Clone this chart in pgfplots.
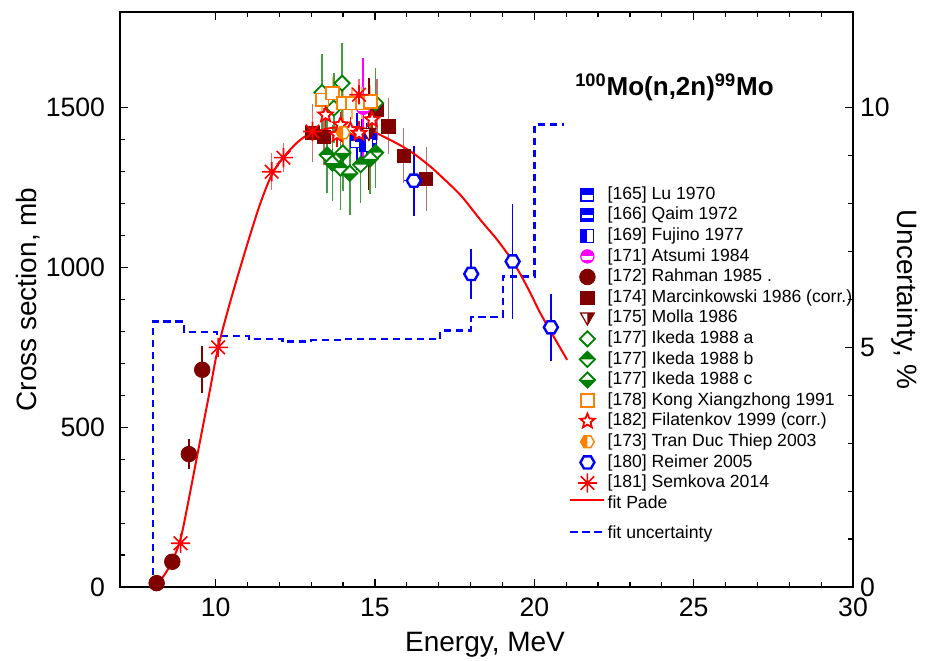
\documentclass[border=0pt]{standalone}
\usepackage{fontspec}
\setmainfont{Liberation Sans}
\usepackage{pgfplots}
\pgfplotsset{compat=1.18}
\definecolor{mblue}{RGB}{0,0,255}
\definecolor{mgreen}{RGB}{0,128,0}
\definecolor{morange}{RGB}{255,128,0}
\definecolor{mmaroon}{RGB}{128,0,0}
\definecolor{mred}{RGB}{255,0,0}
\definecolor{mmag}{RGB}{255,0,255}
% ---------- custom marks ----------
\newcommand{\sqpath}{\pgfpathrectangle{\pgfqpoint{-\pgfplotmarksize}{-\pgfplotmarksize}}{\pgfqpoint{2\pgfplotmarksize}{2\pgfplotmarksize}}}
\newcommand{\whitebg}[1]{\begin{pgfscope}\pgfsetfillcolor{white}#1\pgfusepathqfill\end{pgfscope}}
\pgfdeclareplotmark{sqtop}{%
  \whitebg{\sqpath}%
  \pgfpathrectangle{\pgfqpoint{-\pgfplotmarksize}{0pt}}{\pgfqpoint{2\pgfplotmarksize}{\pgfplotmarksize}}\pgfusepathqfill
  \sqpath\pgfusepathqstroke}
\pgfdeclareplotmark{sqband}{%
  \whitebg{\sqpath}%
  \pgfpathrectangle{\pgfqpoint{-\pgfplotmarksize}{0pt}}{\pgfqpoint{2\pgfplotmarksize}{\pgfplotmarksize}}\pgfusepathqfill
  \pgfpathrectangle{\pgfqpoint{-\pgfplotmarksize}{-\pgfplotmarksize}}{\pgfqpoint{2\pgfplotmarksize}{0.5\pgfplotmarksize}}\pgfusepathqfill
  \sqpath\pgfusepathqstroke}
\pgfdeclareplotmark{sqleft}{%
  \whitebg{\sqpath}%
  \pgfpathrectangle{\pgfqpoint{-\pgfplotmarksize}{-\pgfplotmarksize}}{\pgfqpoint{\pgfplotmarksize}{2\pgfplotmarksize}}\pgfusepathqfill
  \sqpath\pgfusepathqstroke}
\pgfdeclareplotmark{circband}{%
  \whitebg{\pgfpathcircle{\pgfpointorigin}{\pgfplotmarksize}}%
  \begin{pgfscope}\pgfpathcircle{\pgfpointorigin}{\pgfplotmarksize}\pgfusepathqclip
  \pgfpathrectangle{\pgfqpoint{-\pgfplotmarksize}{0pt}}{\pgfqpoint{2\pgfplotmarksize}{\pgfplotmarksize}}\pgfusepathqfill
  \pgfpathrectangle{\pgfqpoint{-\pgfplotmarksize}{-\pgfplotmarksize}}{\pgfqpoint{2\pgfplotmarksize}{0.45\pgfplotmarksize}}\pgfusepathqfill
  \end{pgfscope}%
  \pgfpathcircle{\pgfpointorigin}{\pgfplotmarksize}\pgfusepathqstroke}
\newcommand{\diapath}{\pgfpathmoveto{\pgfqpoint{0pt}{\pgfplotmarksize}}\pgfpathlineto{\pgfqpoint{\pgfplotmarksize}{0pt}}\pgfpathlineto{\pgfqpoint{0pt}{-\pgfplotmarksize}}\pgfpathlineto{\pgfqpoint{-\pgfplotmarksize}{0pt}}\pgfpathclose}
\pgfdeclareplotmark{diaopen}{\whitebg{\diapath}\diapath\pgfusepathqstroke}
\pgfdeclareplotmark{diatop}{%
  \whitebg{\diapath}%
  \pgfpathmoveto{\pgfqpoint{-\pgfplotmarksize}{0pt}}\pgfpathlineto{\pgfqpoint{0pt}{\pgfplotmarksize}}\pgfpathlineto{\pgfqpoint{\pgfplotmarksize}{0pt}}\pgfpathclose\pgfusepathqfill
  \diapath\pgfusepathqstroke}
\pgfdeclareplotmark{diabot}{%
  \whitebg{\diapath}%
  \pgfpathmoveto{\pgfqpoint{-\pgfplotmarksize}{0pt}}\pgfpathlineto{\pgfqpoint{0pt}{-\pgfplotmarksize}}\pgfpathlineto{\pgfqpoint{\pgfplotmarksize}{0pt}}\pgfpathclose\pgfusepathqfill
  \diapath\pgfusepathqstroke}
\newcommand{\tripath}{\pgfpathmoveto{\pgfqpoint{-\pgfplotmarksize}{0.75\pgfplotmarksize}}\pgfpathlineto{\pgfqpoint{\pgfplotmarksize}{0.75\pgfplotmarksize}}\pgfpathlineto{\pgfqpoint{0pt}{-\pgfplotmarksize}}\pgfpathclose}
\pgfdeclareplotmark{trihalf}{%
  \whitebg{\tripath}%
  \pgfpathmoveto{\pgfqpoint{0pt}{0.75\pgfplotmarksize}}\pgfpathlineto{\pgfqpoint{\pgfplotmarksize}{0.75\pgfplotmarksize}}\pgfpathlineto{\pgfqpoint{0pt}{-\pgfplotmarksize}}\pgfpathclose\pgfusepathqfill
  \tripath\pgfusepathqstroke}
\newcommand{\hexpath}{\pgfpathmoveto{\pgfqpoint{\pgfplotmarksize}{0pt}}\pgfpathlineto{\pgfqpoint{0.5\pgfplotmarksize}{0.866\pgfplotmarksize}}\pgfpathlineto{\pgfqpoint{-0.5\pgfplotmarksize}{0.866\pgfplotmarksize}}\pgfpathlineto{\pgfqpoint{-\pgfplotmarksize}{0pt}}\pgfpathlineto{\pgfqpoint{-0.5\pgfplotmarksize}{-0.866\pgfplotmarksize}}\pgfpathlineto{\pgfqpoint{0.5\pgfplotmarksize}{-0.866\pgfplotmarksize}}\pgfpathclose}
\pgfdeclareplotmark{hexopen}{\whitebg{\hexpath}\hexpath\pgfusepathqstroke}
\pgfdeclareplotmark{hexleft}{%
  \whitebg{\hexpath}%
  \pgfpathmoveto{\pgfqpoint{0pt}{0.866\pgfplotmarksize}}\pgfpathlineto{\pgfqpoint{-0.5\pgfplotmarksize}{0.866\pgfplotmarksize}}\pgfpathlineto{\pgfqpoint{-\pgfplotmarksize}{0pt}}\pgfpathlineto{\pgfqpoint{-0.5\pgfplotmarksize}{-0.866\pgfplotmarksize}}\pgfpathlineto{\pgfqpoint{0pt}{-0.866\pgfplotmarksize}}\pgfpathclose\pgfusepathqfill
  \hexpath\pgfusepathqstroke}
\newcommand{\starpath}{%
  \pgfpathmoveto{\pgfpointpolar{90}{\pgfplotmarksize}}%
  \pgfpathlineto{\pgfpointpolar{126}{0.45\pgfplotmarksize}}\pgfpathlineto{\pgfpointpolar{162}{\pgfplotmarksize}}%
  \pgfpathlineto{\pgfpointpolar{198}{0.45\pgfplotmarksize}}\pgfpathlineto{\pgfpointpolar{234}{\pgfplotmarksize}}%
  \pgfpathlineto{\pgfpointpolar{270}{0.45\pgfplotmarksize}}\pgfpathlineto{\pgfpointpolar{306}{\pgfplotmarksize}}%
  \pgfpathlineto{\pgfpointpolar{342}{0.45\pgfplotmarksize}}\pgfpathlineto{\pgfpointpolar{18}{\pgfplotmarksize}}%
  \pgfpathlineto{\pgfpointpolar{54}{0.45\pgfplotmarksize}}\pgfpathclose}
\pgfdeclareplotmark{staropen}{\whitebg{\starpath}\starpath\pgfusepathqstroke}
\pgfdeclareplotmark{ast8}{%
  \pgfpathmoveto{\pgfqpoint{-\pgfplotmarksize}{0pt}}\pgfpathlineto{\pgfqpoint{\pgfplotmarksize}{0pt}}%
  \pgfpathmoveto{\pgfqpoint{0pt}{-\pgfplotmarksize}}\pgfpathlineto{\pgfqpoint{0pt}{\pgfplotmarksize}}%
  \pgfpathmoveto{\pgfpointpolar{45}{\pgfplotmarksize}}\pgfpathlineto{\pgfpointpolar{225}{\pgfplotmarksize}}%
  \pgfpathmoveto{\pgfpointpolar{135}{\pgfplotmarksize}}\pgfpathlineto{\pgfpointpolar{315}{\pgfplotmarksize}}%
  \pgfusepathqstroke}
% ---------- styles ----------
\pgfplotsset{
  eb/.style={error bars/.cd, y dir=both, y explicit, error mark=none,
             error bar style={line width=0.75pt, #1}},
  tickfont/.style={font=\fontsize{13.3}{15}\selectfont},
  padeleg/.style={legend image code/.code={\path[draw=none, fill=none] (0cm,-4pt) rectangle (0.6cm,4pt); \draw[##1] (0cm,2.0pt) -- (0.6cm,2.0pt);}},
  uncleg/.style={legend image code/.code={\path[draw=none, fill=none] (0cm,-4pt) rectangle (0.6cm,4pt); \draw[##1] (0cm,-3.8pt) -- (0.6cm,-3.8pt);}},
}
\begin{document}
\begin{tikzpicture}
% ---------- uncertainty axis (right) ----------
\begin{axis}[
  scale only axis, width=366.5pt, height=287.5pt,
  xmin=7, xmax=30, ymin=0, ymax=12,
  axis y line*=right, axis x line=none,
  ytick={0,5,10}, minor y tick num=4,
  tick align=inside,
  major tick length=4pt, minor tick length=2.5pt,
  every tick/.style={black, line width=0.6pt},
  axis line style={line width=1pt},
  /pgf/number format/assume math mode=true,
  yticklabel style={tickfont},
  every axis y label/.style={at={(axis description cs:1.071,0.5)}, rotate=-90, anchor=center, font=\fontsize{14}{16}\selectfont},
  ylabel={Uncertainty, \%},
]
\addplot[const plot, mblue, line width=1.2pt, dash pattern=on 3.6pt off 2.4pt] coordinates {
 (8.03,0) (8.03,5.54) (9.0,5.32) (10.05,5.24) (11.04,5.17) (12.1,5.12) (13.0,5.15)
 (14.0,5.17) (17.05,5.35) (18.02,5.64) (19.02,6.48) (20.0,9.65) (20.92,9.65)};
\end{axis}
% ---------- cross-section axis ----------
\begin{axis}[
  scale only axis, width=366.5pt, height=287.5pt,
  xmin=7, xmax=30, ymin=0, ymax=1800,
  xtick={10,15,20,25,30}, minor x tick num=4,
  ytick={0,500,1000,1500}, minor y tick num=4,
  ytick pos=left,
  tick align=inside,
  major tick length=4pt, minor tick length=2.5pt,
  every tick/.style={black, line width=0.6pt},
  axis line style={line width=1pt},
  /pgf/number format/assume math mode=true,
  /pgf/number format/set thousands separator={},
  xticklabel style={tickfont, yshift=-2pt},
  yticklabel style={tickfont, xshift=-4pt},
  every axis x label/.style={at={(axis description cs:0.498,-0.101)}, anchor=center, font=\fontsize{14}{16}\selectfont},
  every axis y label/.style={at={(axis description cs:-0.1255,0.5)}, rotate=90, anchor=center, font=\fontsize{14}{16}\selectfont},
  xlabel={Energy, MeV},
  ylabel={Cross section, mb},
  legend style={draw=none, fill=none, at={(axis description cs:0.604,0.708)}, anchor=north west,
    font=\fontsize{8.8}{10}\selectfont, row sep=0pt,
    nodes={inner sep=1pt, text height=6.5pt, text depth=1.8pt}},
  legend cell align=left,
]
\coordinate (BL) at (rel axis cs:0,0);
\coordinate (TR) at (rel axis cs:1,1);
% [165] Lu 1970
\addplot[only marks, mark=sqtop, mark size=3.2pt, mark options={draw=mblue, fill=mblue, line width=0.6pt}, eb={mblue}]
 table[x=x, y=y, y error=e] {
x y e
14.44 1395 90
};
\addlegendentry{[165] Lu 1970}
% [166] Qaim 1972
\addplot[only marks, mark=sqband, mark size=3.2pt, mark options={draw=mblue, fill=mblue, line width=0.6pt}, eb={mblue}]
 table[x=x, y=y, y error=e] {
x y e
14.60 1416 104
14.86 1400 60
};
\addlegendentry{[166] Qaim 1972}
% [169] Fujino 1977
\addplot[only marks, mark=sqleft, mark size=3.2pt, mark options={draw=mblue, fill=mblue, line width=0.6pt}, eb={mblue}]
 table[x=x, y=y, y error=e] {
x y e
14.73 1384 70
};
\addlegendentry{[169] Fujino 1977}
% [171] Atsumi 1984
\addplot[only marks, mark=circband, mark size=3.3pt, mark options={draw=mmag, fill=mmag, line width=0.6pt}, eb={mmag}]
 table[x=x, y=y, y error=e] {
x y e
14.63 1500 155
};
\addlegendentry{[171] Atsumi 1984}
% [172] Rahman 1985
\addplot[only marks, mark=*, mark size=3.9pt, mark options={draw=mmaroon, fill=mmaroon}, eb={mmaroon}]
 table[x=x, y=y, y error=e] {
x y e
8.15 12 0
8.64 79 0
9.16 416 47
9.58 680 74
};
\addlegendentry{[172] Rahman 1985 .}
% [174] Marcinkowski 1986 (corr.)
\addplot[only marks, mark=square*, mark size=3.3pt, mark options={draw=mmaroon, fill=mmaroon}, eb={mmaroon!55}]
 table[x=x, y=y, y error=e] {
x y e
13.04 1421 90
13.40 1410 90
15.07 1494 95
15.42 1442 88
15.90 1350 86
16.61 1278 100
};
\addlegendentry{[174] Marcinkowski 1986 (corr.)}
% [175] Molla 1986
\addplot[only marks, mark=trihalf, mark size=3.4pt, mark options={draw=mmaroon, fill=mmaroon, line width=0.6pt}, eb={mmaroon}]
 table[x=x, y=y, y error=e] {
x y e
14.81 1419 175
};
\addlegendentry{[175] Molla 1986}
% [177] Ikeda 1988 a
\addplot[only marks, mark=diaopen, mark size=3.8pt, mark options={draw=mgreen, line width=0.9pt}, eb={mgreen!75}]
 table[x=x, y=y, y error=e] {
x y e
13.34 1548 120
13.71 1499 110
13.97 1577 125
15.02 1515 110
};
\addlegendentry{[177] Ikeda 1988 a}
% [177] Ikeda 1988 b
\addplot[only marks, mark=diatop, mark size=3.8pt, mark options={draw=mgreen, fill=mgreen, line width=0.9pt}, eb={mgreen!75}]
 table[x=x, y=y, y error=e] {
x y e
13.50 1353 120
13.92 1311 130
14.55 1322 120
15.02 1360 110
};
\addlegendentry{[177] Ikeda 1988 b}
% [177] Ikeda 1988 c
\addplot[only marks, mark=diabot, mark size=3.8pt, mark options={draw=mgreen, fill=mgreen, line width=0.9pt}, eb={mgreen!75}]
 table[x=x, y=y, y error=e] {
x y e
13.66 1327 120
13.99 1359 120
14.21 1295 130
14.85 1340 110
};
\addlegendentry{[177] Ikeda 1988 c}
% [178] Kong Xiangzhong 1991
\addplot[only marks, mark=square*, mark size=3.2pt, mark options={draw=morange, fill=white, line width=0.9pt}, eb={morange!60}]
 table[x=x, y=y, y error=e] {
x y e
13.34 1525 50
13.66 1546 50
14.02 1515 50
14.28 1515 50
14.60 1515 50
14.86 1520 50
};
\addlegendentry{[178] Kong Xiangzhong 1991}
% [182] Filatenkov 1999 (corr.)
\addplot[only marks, mark=staropen, mark size=3.8pt, mark options={draw=mred, line width=0.9pt}, eb={mred}]
 table[x=x, y=y, y error=e] {
x y e
13.45 1478 40
13.81 1416 40
13.92 1447 40
14.23 1431 40
14.50 1420 40
14.91 1463 40
};
\addlegendentry{[182] Filatenkov 1999 (corr.)}
% [173] Tran Duc Thiep 2003
\addplot[only marks, mark=hexleft, mark size=3.4pt, mark options={draw=morange, fill=morange, line width=0.7pt}, eb={morange}]
 table[x=x, y=y, y error=e] {
x y e
14.00 1422 45
};
\addlegendentry{[173] Tran Duc Thiep 2003}
% [180] Reimer 2005
\addplot[only marks, mark=hexopen, mark size=3.5pt, mark options={draw=mblue, line width=1.2pt},
  error bars/.cd, y dir=both, y explicit, x dir=both, x explicit, error mark=none, error bar style={line width=0.75pt, mblue}]
 table[x=x, y=y, x error=ex, y error=e] {
x y ex e
16.22 1272 0.30 110
18.02 980 0.10 77
19.32 1019 0.10 180
20.52 813 0.10 104
};
\addlegendentry{[180] Reimer 2005}
% [181] Semkova 2014
\addplot[only marks, mark=ast8, mark size=4.8pt, mark options={draw=mred, line width=0.8pt}, eb={mred!60}]
 table[x=x, y=y, y error=e] {
x y e
8.90 137 0
10.08 750 0
11.76 1300 58
12.13 1344 45
13.04 1426 60
14.50 1541 50
};
\addlegendentry{[181] Semkova 2014}
% fit Pade
\addplot[mred, line width=1pt, smooth, no markers, padeleg] coordinates {
 (8.07,0) (8.30,25) (8.50,55) (8.70,95) (8.90,150) (9.10,245) (9.43,415) (9.80,605)
 (10.08,750) (10.48,900) (11.00,1075) (11.40,1200) (11.76,1290) (12.13,1345)
 (12.60,1395) (13.03,1422) (13.70,1438) (14.34,1440) (14.80,1432) (15.17,1415)
 (15.70,1388) (16.20,1358) (16.74,1316) (17.05,1288) (17.70,1225) (18.31,1149)
 (18.85,1085) (19.36,1014) (19.80,935) (20.19,857) (20.60,785) (21.03,711)};
\addlegendentry{fit Pade}
\addlegendimage{mblue, line width=1.2pt, dash pattern=on 3.6pt off 2.4pt, uncleg}
\addlegendentry{\raisebox{-5pt}{fit uncertainty}}
\node[font=\fontsize{13}{15}\selectfont\bfseries] at (axis cs:24.4,1563)
  {\textsuperscript{100}Mo(n,2n)\textsuperscript{99}Mo};
\end{axis}
\pgfresetboundingbox
\path ([shift={(-60pt,-37pt)}]BL) rectangle ([shift={(38.5pt,6pt)}]TR);
\end{tikzpicture}
\end{document}
